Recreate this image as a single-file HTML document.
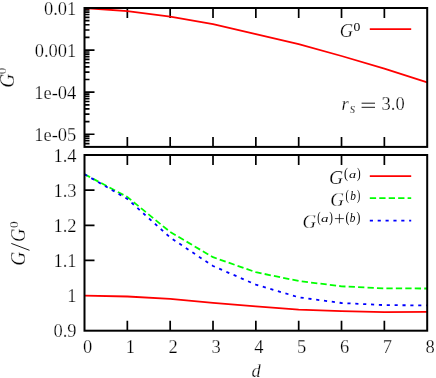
<!DOCTYPE html><html><head><meta charset="utf-8"><style>html,body{margin:0;padding:0;background:#fff}svg{display:block;will-change:transform;opacity:0.999}text{font-family:"Liberation Serif",serif;fill:#000;stroke:#fff;stroke-width:0.25px;paint-order:fill stroke}</style></head><body>
<svg width="436" height="378" viewBox="0 0 436 378">
<rect width="436" height="378" fill="#fff"/>
<path d="M127.34 146.90V136.90M127.34 8.00V18.00M170.18 146.90V136.90M170.18 8.00V18.00M213.01 146.90V136.90M213.01 8.00V18.00M255.85 146.90V136.90M255.85 8.00V18.00M298.69 146.90V136.90M298.69 8.00V18.00M341.52 146.90V136.90M341.52 8.00V18.00M384.36 146.90V136.90M384.36 8.00V18.00M127.34 330.70V320.70M127.34 155.00V165.00M170.18 330.70V320.70M170.18 155.00V165.00M213.01 330.70V320.70M213.01 155.00V165.00M255.85 330.70V320.70M255.85 155.00V165.00M298.69 330.70V320.70M298.69 155.00V165.00M341.52 330.70V320.70M341.52 155.00V165.00M384.36 330.70V320.70M384.36 155.00V165.00M84.50 143.57H89.50M84.50 140.75H89.50M84.50 138.31H89.50M84.50 136.16H89.50M84.50 134.23H94.50M84.50 121.57H89.50M84.50 114.16H89.50M84.50 108.90H89.50M84.50 104.82H89.50M84.50 101.49H89.50M84.50 98.67H89.50M84.50 96.23H89.50M84.50 94.08H89.50M84.50 92.16H94.50M84.50 79.49H89.50M84.50 72.08H89.50M84.50 66.82H89.50M84.50 62.74H89.50M84.50 59.41H89.50M84.50 56.60H89.50M84.50 54.16H89.50M84.50 52.00H89.50M84.50 50.08H94.50M84.50 37.41H89.50M84.50 30.00H89.50M84.50 24.74H89.50M84.50 20.67H89.50M84.50 17.33H89.50M84.50 14.52H89.50M84.50 12.08H89.50M84.50 9.93H89.50M84.50 260.42H94.50M84.50 225.28H94.50M84.50 190.14H94.50" stroke="#000" stroke-width="1.7" fill="none"/>
<polyline points="84.50,8.00 127.34,11.10 170.18,16.60 213.01,24.20 255.85,34.20 298.69,44.20 341.52,56.00 384.36,68.60 427.20,82.30" stroke="#f00" stroke-width="1.8" fill="none" stroke-linejoin="round"/>
<polyline points="84.50,295.60 127.34,296.50 170.18,298.90 213.01,302.90 255.85,306.30 298.69,309.60 341.52,311.20 384.36,312.20 427.20,311.90" stroke="#f00" stroke-width="1.8" fill="none" stroke-linejoin="round"/>
<polyline points="84.50,174.20 127.34,197.00 170.18,232.00 213.01,257.20 255.85,272.20 298.69,281.00 341.52,286.30 384.36,288.40 427.20,288.50" stroke="#0f0" stroke-width="1.8" fill="none" stroke-dasharray="6.30 3.15"/>
<polyline points="84.50,174.20 127.34,198.90 170.18,237.50 213.01,266.00 255.85,284.60 298.69,297.30 341.52,303.00 384.36,305.10 427.20,305.40" stroke="#00f" stroke-width="1.8" fill="none" stroke-dasharray="3.15 4.72"/>
<path d="M369.8 29.1H411.2" stroke="#f00" stroke-width="1.8"/>
<path d="M369.8 176.05H411.2" stroke="#f00" stroke-width="1.8"/>
<path d="M369.8 198.2H411.2" stroke="#0f0" stroke-width="1.8" stroke-dasharray="6.30 3.15"/>
<path d="M369.8 220.7H411.2" stroke="#00f" stroke-width="1.8" stroke-dasharray="3.15 4.72"/>
<rect x="84.5" y="8.0" width="342.70" height="138.90" fill="none" stroke="#000" stroke-width="2.0"/>
<rect x="84.5" y="155.0" width="342.70" height="175.70" fill="none" stroke="#000" stroke-width="2.0"/>
<text x="76.30" y="15.00" font-size="18.5" text-anchor="end" >0.01</text>
<text x="76.30" y="57.08" font-size="18.5" text-anchor="end" >0.001</text>
<text x="76.30" y="99.16" font-size="18.5" text-anchor="end" >1e-04</text>
<text x="76.30" y="141.23" font-size="18.5" text-anchor="end" >1e-05</text>
<text x="76.50" y="337.30" font-size="18.5" text-anchor="end" >0.9</text>
<text x="76.50" y="302.16" font-size="18.5" text-anchor="end" >1</text>
<text x="76.50" y="267.02" font-size="18.5" text-anchor="end" >1.1</text>
<text x="76.50" y="231.88" font-size="18.5" text-anchor="end" >1.2</text>
<text x="76.50" y="196.74" font-size="18.5" text-anchor="end" >1.3</text>
<text x="76.50" y="161.60" font-size="18.5" text-anchor="end" >1.4</text>
<text x="87.50" y="353.20" font-size="18.5" text-anchor="middle" >0</text>
<text x="130.34" y="353.20" font-size="18.5" text-anchor="middle" >1</text>
<text x="173.18" y="353.20" font-size="18.5" text-anchor="middle" >2</text>
<text x="216.01" y="353.20" font-size="18.5" text-anchor="middle" >3</text>
<text x="258.85" y="353.20" font-size="18.5" text-anchor="middle" >4</text>
<text x="301.69" y="353.20" font-size="18.5" text-anchor="middle" >5</text>
<text x="344.52" y="353.20" font-size="18.5" text-anchor="middle" >6</text>
<text x="387.36" y="353.20" font-size="18.5" text-anchor="middle" >7</text>
<text x="430.20" y="353.20" font-size="18.5" text-anchor="middle" >8</text>
<text x="256.00" y="376.80" font-size="18.5" text-anchor="middle" font-style="italic">d</text>
<text x="341.6" y="109.6" font-size="18.5" font-style="italic">r</text>
<text x="349.8" y="112.6" font-size="14.5" font-style="italic">s</text>
<path d="M361.6 103.2H375M361.6 107.3H375" stroke="#000" stroke-width="0.9" fill="none"/>
<text x="381.6" y="109.6" font-size="18.5">3.0</text>
<text transform="matrix(0.1859 0 0 0.1789 339.87 37.44)" font-size="100" font-style="italic" style="stroke-width:1.37px">G</text>
<text transform="matrix(0.1368 0 0 0.1215 353.38 31.18)" font-size="100" style="stroke-width:0.00px">0</text>
<text transform="matrix(0.1967 0 0 0.1938 328.91 184.03)" font-size="100" font-style="italic" style="stroke-width:1.28px">G</text>
<text transform="matrix(0.1207 0 0 0.1357 344.07 177.81)" font-size="100" style="stroke-width:0.00px">(</text>
<text transform="matrix(0.1433 0 0 0.1081 349.07 177.99)" font-size="100" font-style="italic" style="stroke-width:0.00px">a</text>
<text transform="matrix(0.1090 0 0 0.1357 356.95 177.81)" font-size="100" style="stroke-width:0.00px">)</text>
<text transform="matrix(0.1905 0 0 0.1938 330.25 206.03)" font-size="100" font-style="italic" style="stroke-width:1.30px">G</text>
<text transform="matrix(0.1012 0 0 0.1357 345.56 199.81)" font-size="100" style="stroke-width:0.00px">(</text>
<text transform="matrix(0.1133 0 0 0.1165 350.18 199.99)" font-size="100" font-style="italic" style="stroke-width:0.00px">b</text>
<text transform="matrix(0.0973 0 0 0.1357 356.99 199.81)" font-size="100" style="stroke-width:0.00px">)</text>
<text transform="matrix(0.1890 0 0 0.1908 302.46 228.13)" font-size="100" font-style="italic" style="stroke-width:1.32px">G</text>
<text transform="matrix(0.1012 0 0 0.1368 317.36 222.29)" font-size="100" style="stroke-width:0.00px">(</text>
<text transform="matrix(0.1502 0 0 0.1081 321.05 222.49)" font-size="100" font-style="italic" style="stroke-width:0.00px">a</text>
<text transform="matrix(0.1090 0 0 0.1368 329.15 222.29)" font-size="100" style="stroke-width:0.00px">)</text>
<path d="M334.9 218.6H343.9M339.4 213.9V223.3" stroke="#000" stroke-width="0.75" fill="none"/>
<text transform="matrix(0.1168 0 0 0.1368 345.39 222.29)" font-size="100" style="stroke-width:0.00px">(</text>
<text transform="matrix(0.1133 0 0 0.1180 349.68 222.48)" font-size="100" font-style="italic" style="stroke-width:0.00px">b</text>
<text transform="matrix(0.1168 0 0 0.1368 356.52 222.29)" font-size="100" style="stroke-width:0.00px">)</text>
<text transform="matrix(0 -0.1936 0.2057 0 13.62 87.87)" font-size="100" font-style="italic" style="stroke-width:1.25px">G</text>
<text transform="matrix(0 -0.1298 0.1319 0 6.47 74.19)" font-size="100" style="stroke-width:1.91px">0</text>
<text transform="matrix(0 -0.1952 0.2057 0 25.42 265.68)" font-size="100" font-style="italic" style="stroke-width:1.25px">G</text>
<path d="M11.3 243.4L29.5 250.3" stroke="#000" stroke-width="0.9" fill="none"/>
<text transform="matrix(0 -0.1859 0.2057 0 25.42 241.93)" font-size="100" font-style="italic" style="stroke-width:1.28px">G</text>
<text transform="matrix(0 -0.1345 0.1349 0 18.47 228.11)" font-size="100" style="stroke-width:1.86px">0</text>
</svg></body></html>
